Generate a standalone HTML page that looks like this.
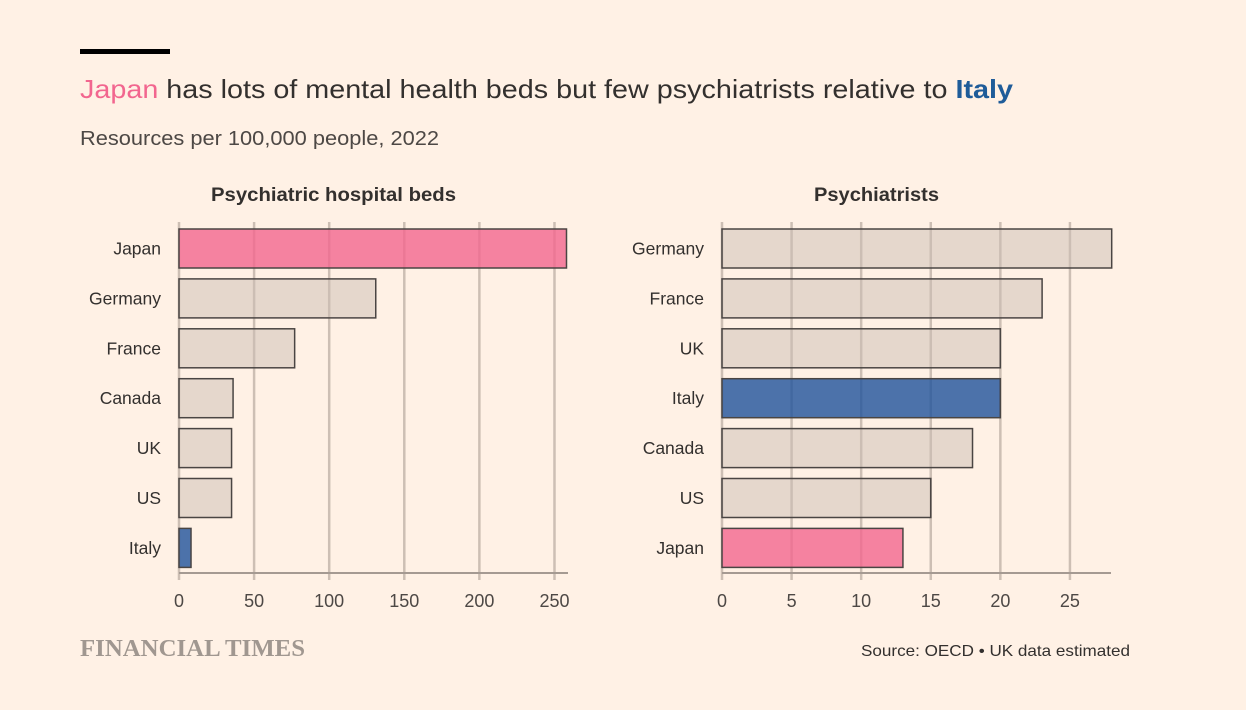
<!DOCTYPE html>
<html><head><meta charset="utf-8"><style>
body{margin:0;background:#fff1e5;font-family:"Liberation Sans","DejaVu Sans",sans-serif}
svg{display:block}
</style></head><body>
<svg width="1246" height="710">
<rect x="0" y="0" width="1246" height="710" fill="#fff1e5"/>
<rect x="80" y="49" width="90" height="5" fill="#000"/>
<text x="80" y="98" font-size="26" fill="#33302e" textLength="933" lengthAdjust="spacingAndGlyphs"><tspan fill="#f2668f">Japan</tspan> has lots of mental health beds but few psychiatrists relative to <tspan fill="#1f5c99" font-weight="bold">Italy</tspan></text>
<text x="80" y="145" font-size="20" fill="#4d4845" textLength="359" lengthAdjust="spacingAndGlyphs">Resources per 100,000 people, 2022</text>
<text x="211" y="201" font-size="19" font-weight="bold" fill="#33302e" textLength="245" lengthAdjust="spacingAndGlyphs">Psychiatric hospital beds</text>
<text x="814" y="201" font-size="19" font-weight="bold" fill="#33302e" textLength="125" lengthAdjust="spacingAndGlyphs">Psychiatrists</text>
<g id="left"></g><g id="right"></g>
<text x="80" y="656" font-size="24" font-weight="bold" font-family="Liberation Serif,serif" fill="#a09790" textLength="225" lengthAdjust="spacingAndGlyphs">FINANCIAL TIMES</text>
<text x="861" y="656" font-size="16" fill="#33302e" textLength="269" lengthAdjust="spacingAndGlyphs">Source: OECD • UK data estimated</text>
</svg>
<script>
const bedsCountries=["Japan","Germany","France","Canada","UK","US","Italy"];
const bedsValues=[258,131,77,36,35,35,8];
const bedsColors=["pink","grey","grey","grey","grey","grey","blue"];
const bedsTicks=[0,50,100,150,200,250];
const psyCountries=["Germany","France","UK","Italy","Canada","US","Japan"];
const psyValues=[28,23,20,20,18,15,13];
const psyColors=["grey","grey","grey","blue","grey","grey","pink"];
const psyTicks=[0,5,10,15,20,25];
const NS="http://www.w3.org/2000/svg";
const fills={pink:"rgba(242,102,143,0.8)",blue:"rgba(31,83,155,0.8)",grey:"rgba(204,190,180,0.5)"};
function mk(t,a,p){const e=document.createElementNS(NS,t);for(const k in a)e.setAttribute(k,a[k]);p.appendChild(e);return e;}
function panel(g,x0,x1,max,cats,vals,cols,ticks,key){
  const sx=v=>x0+(x1-x0)*v/max;
  const y0=229,step=49.9,h=39;
  ticks.forEach(t=>{
    const l=mk("line",{x1:sx(t),x2:sx(t),y1:222,y2:580,stroke:"#cdbfb4","stroke-width":2.5},g);
    
    
    const tx=mk("text",{x:sx(t),y:607,"font-size":18,fill:"#4d4845","text-anchor":"middle"},g);
    tx.textContent=t;
    
    
  });
  mk("line",{x1:x0,x2:x1,y1:573,y2:573,stroke:"#a59a92","stroke-width":2},g);
  cats.forEach((c,i)=>{
    const y=y0+i*step;
    const r=mk("rect",{x:x0,y:y,width:sx(vals[i])-x0,height:h,fill:fills[cols[i]],stroke:"#4a4543","stroke-width":1.5},g);
    
    
    const t=mk("text",{x:x0-18,y:y+h/2+6,"font-size":17.5,fill:"#33302e","text-anchor":"end"},g);
    t.textContent=c;
    
    
  });
}
panel(document.getElementById("left"),179,568,259,bedsCountries,bedsValues,bedsColors,bedsTicks,"beds");
panel(document.getElementById("right"),722,1111,27.95,psyCountries,psyValues,psyColors,psyTicks,"psychiatrists");
</script>
</body></html>
